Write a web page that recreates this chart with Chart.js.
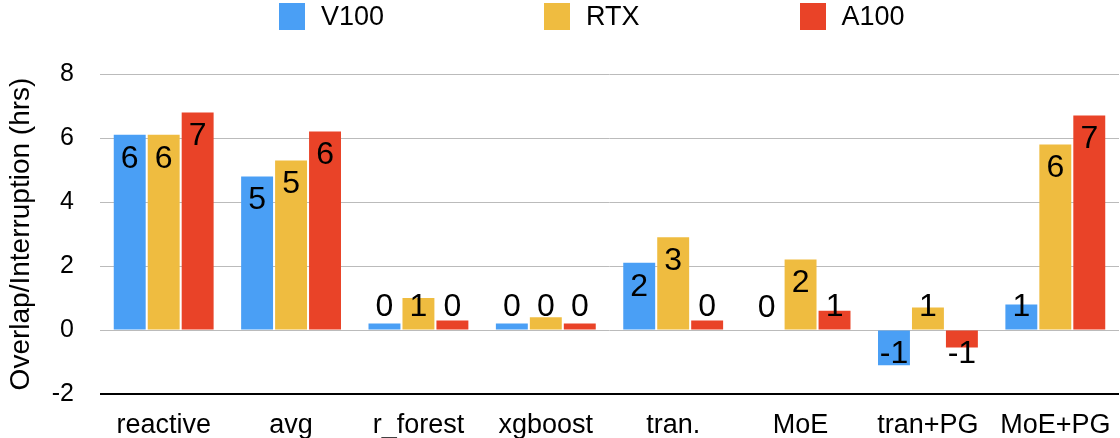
<!DOCTYPE html>
<html>
<head>
<meta charset="utf-8">
<script src="https://cdn.jsdelivr.net/npm/chart.js@4"></script>
<style>
  body { margin: 0; background: #fff; font-family: 'Liberation Sans', Arial, sans-serif; }
  .wrap { position: relative; width: 1120px; height: 438px; }
  .legend { position: absolute; top: 3px; left: 279px; display: flex; gap: 160px; }
  .legend-item { display: flex; align-items: center; font-size: 27px; color: #000; height: 27px; }
  .legend-item span { display: inline-block; width: 26px; height: 27px; margin-right: 16px; }
  canvas { display: block; }
</style>
</head>
<body>
<div class="wrap">
  <div class="legend"></div>
  <canvas id="chartCanvas" width="1120" height="438"></canvas>
</div>
<script>
// chart data
const categories = ['reactive', 'avg', 'r_forest', 'xgboost', 'tran.', 'MoE', 'tran+PG', 'MoE+PG']
const v100 = [6.1, 4.8, 0.2, 0.2, 2.1, 0, -1.1, 0.8]
const rtx = [6.1, 5.3, 1.0, 0.4, 2.9, 2.2, 0.7, 5.8]
const a100 = [6.8, 6.2, 0.3, 0.2, 0.3, 0.6, -0.55, 6.7]
const seriesNames = ['V100', 'RTX', 'A100']
const seriesColors = ['#4a9ff5', '#efbc40', '#e94328']
const yTicks = [-2, 0, 2, 4, 6, 8]

const fontFamily = "'Liberation Sans', Arial, sans-serif"

// html legend
let legendHtml = ''
seriesNames.forEach((name, i) => {
    legendHtml += `<div class="legend-item"><span style="background:${seriesColors[i]}"></span>${name}</div>`
})
document.querySelector('.legend').innerHTML = legendHtml

// value labels, clamped inside the bar end
const barLabels = {
    id: 'barLabels',
    afterDatasetsDraw(chart) {
        const ctx = chart.ctx
        ctx.save()
        ctx.font = '32px ' + fontFamily
        ctx.fillStyle = '#000'
        ctx.textAlign = 'center'
        ctx.textBaseline = 'middle'
        chart.data.datasets.forEach((ds, i) => {
            chart.getDatasetMeta(i).data.forEach((bar, j) => {
                const v = ds.data[j]
                let y
                if (v >= 0) y = Math.min(bar.y + 23, bar.base - 23)
                else y = Math.max(bar.y - 23, bar.base + 23)
                ctx.fillText(String(Math.round(v)), bar.x, y + 1)
            })
        })
        ctx.restore()
    }
}

const datasets = [v100, rtx, a100].map((data, i) => ({
    label: seriesNames[i],
    data: data,
    backgroundColor: seriesColors[i],
    categoryPercentage: 0.8,
    barPercentage: 0.94
}))

new Chart(document.getElementById('chartCanvas'), {
    type: 'bar',
    data: { labels: categories, datasets: datasets },
    options: {
        responsive: false,
        animation: false,
        layout: { padding: { top: 74, right: 1, left: 4, bottom: 0 } },
        plugins: {
            legend: { display: false },
            tooltip: { enabled: false }
        },
        scales: {
            x: {
                afterFit: (axis) => { axis.height = 44 },
                grid: { display: false },
                border: { display: false },
                ticks: { color: '#000', font: { size: 27, family: fontFamily }, padding: 7, maxRotation: 0 }
            },
            y: {
                min: -2,
                max: 8,
                afterBuildTicks: (axis) => { axis.ticks = yTicks.map(v => ({ value: v })) },
                afterFit: (axis) => { axis.width = 96 },
                grid: {
                    color: (c) => c.tick && c.tick.value === -2 ? '#000' : '#bbbbbb',
                    lineWidth: (c) => c.tick && c.tick.value === -2 ? 2 : 1,
                    drawTicks: false
                },
                border: { display: false },
                ticks: { color: '#000', font: { size: 25, family: fontFamily }, padding: 26 },
                title: {
                    display: true,
                    text: 'Overlap/Interruption (hrs)',
                    color: '#000',
                    font: { size: 28, family: fontFamily },
                    padding: { top: 0, bottom: 0 }
                }
            }
        }
    },
    plugins: [barLabels]
})
</script>
</body>
</html>
